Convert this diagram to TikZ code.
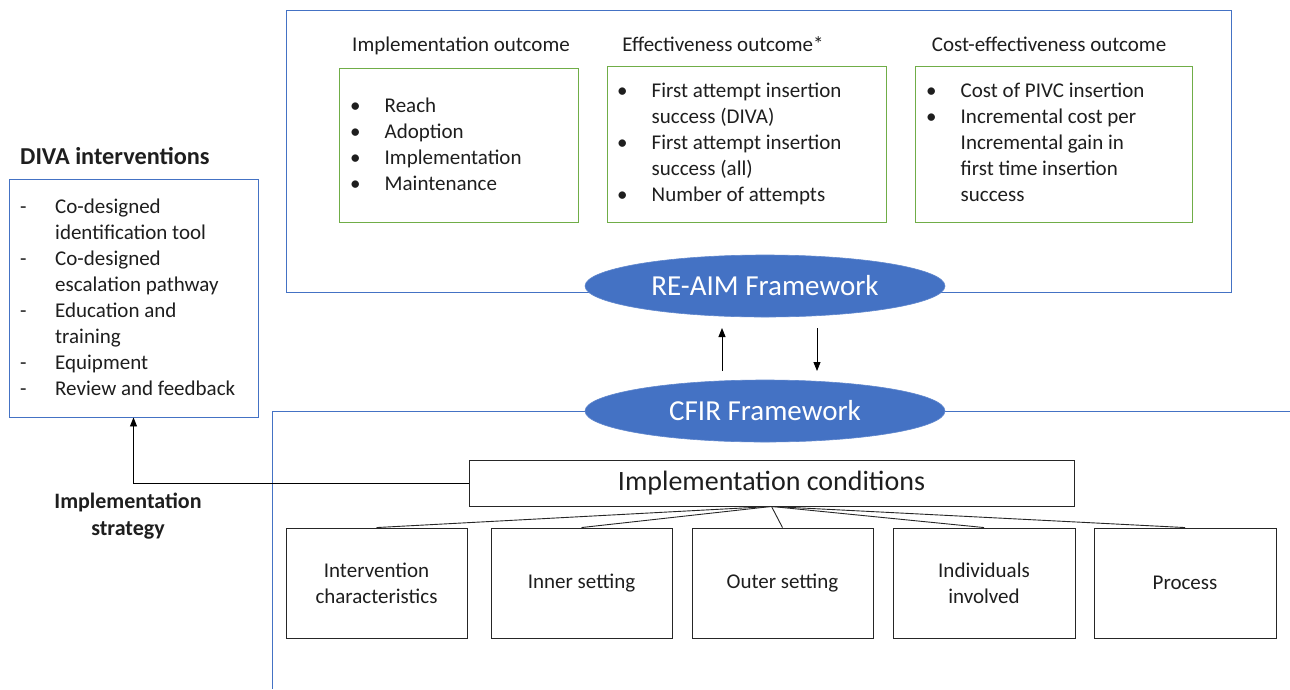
\documentclass[tikz,border=0pt]{standalone}
\usepackage{fontspec}
\setmainfont{Carlito}
\usetikzlibrary{arrows.meta,shapes.geometric}
\definecolor{frameblue}{HTML}{4472C4}
\definecolor{ellblue}{HTML}{4472C4}
\definecolor{boxgreen}{HTML}{70AD47}
\definecolor{txtc}{HTML}{1E1E1E}
\newcommand{\blist}[1]{\begin{tabular}[t]{@{}p{34.5pt}@{}l@{}}#1\end{tabular}}
\newcommand{\dlist}[1]{\begin{tabular}[t]{@{}p{35pt}@{}l@{}}#1\end{tabular}}
\begin{document}
\begin{tikzpicture}[x=1pt,y=-1pt,
  bodyfont/.style={font=\fontsize{21}{26}\selectfont, text=txtc},
  blueframe/.style={draw=frameblue, line width=0.9pt, rectangle, inner sep=0pt},
  greenbox/.style={draw=boxgreen, line width=0.9pt, rectangle, inner sep=0pt},
  blackbox/.style={draw=black!85, line width=0.9pt, rectangle, inner sep=0pt, bodyfont, align=center},
  listnode/.style={bodyfont, inner sep=0pt, anchor=base west},
  titlenode/.style={bodyfont, inner sep=0pt, anchor=base},
  headnode/.style={font=\fontsize{22}{27}\selectfont\bfseries, text=txtc, inner sep=0pt, align=center},
  framework/.style={ellipse, fill=ellblue, draw=ellblue!85!white, line width=0.6pt, minimum width=360pt, minimum height=62pt, text=white, font=\fontsize{29}{32}\selectfont, inner sep=0pt},
  arr/.style={draw=black, line width=0.9pt, -{Triangle[length=9pt,width=7pt]}},
  conn/.style={draw=black!85, line width=0.9pt}
]
\useasboundingbox (0,0) rectangle (1290,689);
\fill[white] (0,0) rectangle (1290,689);

% RE-AIM frame
\node[blueframe, minimum width=945pt, minimum height=282pt] (topframe) at (758.5,151) {};
% CFIR open frame
\coordinate (cfa) at (272,689);
\coordinate (cfb) at (272,411);
\coordinate (cfc) at (1290,411);
\draw[draw=frameblue, line width=0.9pt] (cfa) -- (cfb) -- (cfc);

% outcome titles
\node[titlenode] (t1) at (461,51) {Implementation outcome};
\node[titlenode] (t2) at (723,51) {Effectiveness outcome*};
\node[titlenode] (t3) at (1049,51) {Cost-effectiveness outcome};

% green boxes
\node[greenbox, minimum width=239pt, minimum height=154pt] (g1) at (458.5,145) {};
\node[greenbox, minimum width=279pt, minimum height=156pt] (g2) at (746.5,144) {};
\node[greenbox, minimum width=277pt, minimum height=156pt] (g3) at (1053.5,144) {};

\node[listnode] (l1) at (350,112) {\blist{\textbullet & Reach\\ \textbullet & Adoption\\ \textbullet & Implementation\\ \textbullet & Maintenance}};
\node[listnode] (l2) at (617,97) {\blist{\textbullet & First attempt insertion\\ & success (DIVA)\\ \textbullet & First attempt insertion\\ & success (all)\\ \textbullet & Number of attempts}};
\node[listnode] (l3) at (926,97) {\blist{\textbullet & Cost of PIVC insertion\\ \textbullet & Incremental cost per\\ & Incremental gain in\\ & first time insertion\\ & success}};

% frameworks
\node[framework] (reaim) at (765,286) {RE-AIM Framework};
\node[framework] (cfir) at (765,411) {CFIR Framework};

\coordinate (upS) at (722,371);
\coordinate (upE) at (722,328);
\coordinate (dnS) at (817,328);
\coordinate (dnE) at (817,371);
\draw[arr] (upS) -- (upE);
\draw[arr] (dnS) -- (dnE);

% DIVA
\node[font=\fontsize{24.3}{28}\selectfont\bfseries, text=txtc, inner sep=0pt, anchor=base west] (divah) at (20,164) {DIVA interventions};
\node[blueframe, minimum width=249pt, minimum height=238pt] (diva) at (133.5,298) {};
\node[listnode] (dl) at (20,213) {\dlist{- & Co-designed\\ & identification tool\\ - & Co-designed\\ & escalation pathway\\ - & Education and\\ & training\\ - & Equipment\\ - & Review and feedback}};

% implementation conditions
\node[draw=black!85, line width=0.9pt, minimum width=605pt, minimum height=46pt, inner sep=0pt, font=\fontsize{28}{30}\selectfont, text=txtc] (ic) at (771.5,483) {Implementation conditions};

\node[blackbox, minimum width=181pt, minimum height=110pt] (b1) at (376.5,583) {Intervention\\characteristics};
\node[blackbox, minimum width=181pt, minimum height=110pt] (b2) at (581.5,583) {Inner setting};
\node[blackbox, minimum width=181pt, minimum height=110pt] (b3) at (782.5,583) {Outer setting};
\node[blackbox, minimum width=182pt, minimum height=110pt] (b4) at (984,583) {Individuals\\involved};
\node[blackbox, minimum width=182pt, minimum height=110pt] (b5) at (1185,583) {Process};

\foreach \b in {b1,b2,b3,b4,b5} {\draw[conn] (ic.south) -- (\b.north);}

\draw[arr] (ic.west) -| (diva.south);

\node[headnode] (strat) at (128,516) {Implementation\\strategy};
\end{tikzpicture}
\end{document}
